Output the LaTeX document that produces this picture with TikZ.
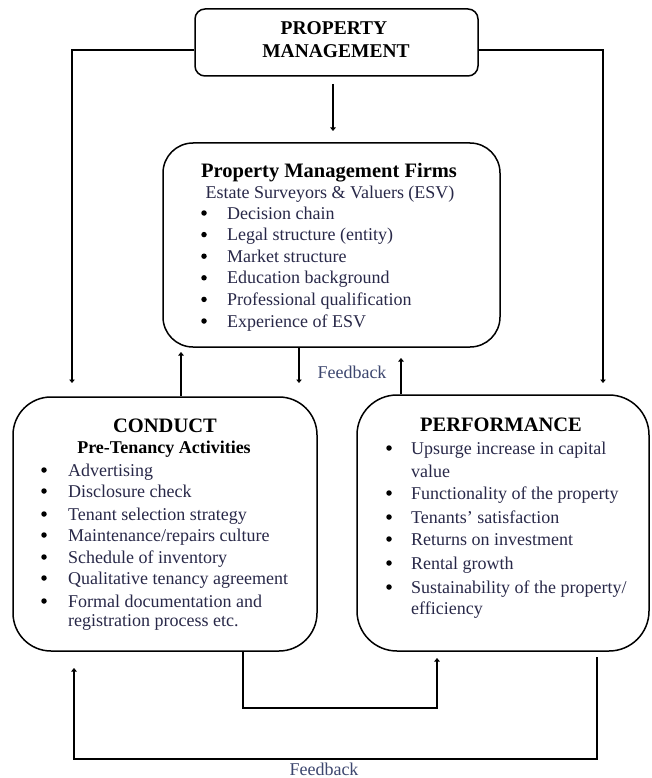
\documentclass[tikz,border=0pt]{standalone}
\usepackage{fontspec}
\setmainfont{Liberation Serif}
\usetikzlibrary{arrows.meta}
\definecolor{itemc}{RGB}{40,40,72}
\definecolor{fbc}{RGB}{60,70,110}
\begin{document}
\begin{tikzpicture}[x=1pt,y=-1pt,
  box/.style={draw, line width=1.5pt, rounded corners=#1, inner sep=0pt},
  conn/.style={line width=2.8pt},
  arr/.style={conn, -{Triangle[length=3.5pt,width=5.5pt]}},
  ttl/.style={font=\bfseries\fontsize{20.5}{23}\selectfont, inner sep=0pt, anchor=base},
  sub/.style={font=\bfseries\fontsize{18}{21}\selectfont, inner sep=0pt, anchor=base},
  itm/.style={font=\fontsize{18}{21}\selectfont, text=itemc, inner sep=0pt, anchor=base west},
  bul/.style={circle, fill=black, inner sep=0pt, minimum size=5.5pt},
  fb/.style={font=\fontsize{18}{21}\selectfont, text=fbc, inner sep=0pt, anchor=base}
]
\useasboundingbox (0,0) rectangle (651,778);

% boxes
\node[box=10pt, minimum width=283pt, minimum height=67pt] (pm) at (336.5,42.5) {};
\node[box=30pt, minimum width=337pt, minimum height=204pt] (pmf) at (331.5,245) {};
\node[box=38pt, minimum width=304pt, minimum height=254pt] (conduct) at (165,524) {};
\node[box=40pt, minimum width=292pt, minimum height=256pt] (perf) at (503,523) {};

% top box text
\node[ttl, font=\bfseries\fontsize{19.5}{23}\selectfont] (pmt1) at (334,35) {PROPERTY};
\node[ttl, font=\bfseries\fontsize{19.5}{23}\selectfont] (pmt2) at (336,58) {MANAGEMENT};

% PMF box text
\node[ttl] (pmft) at (329,177) {Property Management Firms};
\node[itm, anchor=base] (pmfs) at (330,198) {Estate Surveyors \& Valuers (ESV)};
\foreach \t [count=\i] in {Decision chain, Legal structure (entity), Market structure, Education background, Professional qualification, Experience of ESV} {
  \node[bul] (pmfb\i) at (204,{213+21.6*(\i-1)}) {};
  \node[itm] (pmfi\i) at (227,{219+21.6*(\i-1)}) {\t};
}

% CONDUCT box text
\node[ttl] (cdt) at (165,432) {CONDUCT};
\node[sub] (cds) at (164,453) {Pre-Tenancy Activities};
\foreach \t/\y [count=\i] in {Advertising/470, Disclosure check/491, Tenant selection strategy/514, Maintenance\slash repairs culture/535, Schedule of inventory/557, Qualitative tenancy agreement/578, Formal documentation and/601} {
  \node[bul] (cdb\i) at (44,\y) {};
  \node[itm] (cdi\i) at (68,{\y+6}) {\t};
}
\node[itm] (cdi8) at (68,626) {registration process etc.};

% PERFORMANCE box text
\node[ttl] (pft) at (501,431) {PERFORMANCE};
\node[bul] (pfb1) at (389,448) {};
\node[itm] (pfi1) at (411,454) {Upsurge increase in capital};
\node[itm] (pfi1b) at (411,477) {value};
\node[bul] (pfb2) at (389,493) {};
\node[itm] (pfi2) at (411,499) {Functionality of the property};
\node[bul] (pfb3) at (389,517) {};
\node[itm] (pfi3) at (411,523) {Tenants' satisfaction};
\node[bul] (pfb4) at (389,539) {};
\node[itm] (pfi4) at (411,545) {Returns on investment};
\node[bul] (pfb5) at (389,563) {};
\node[itm] (pfi5) at (411,569) {Rental growth};
\node[bul] (pfb6) at (389,587) {};
\node[itm] (pfi6) at (411,593) {Sustainability of the property/};
\node[itm] (pfi6b) at (411,614) {efficiency};

% connector coordinates
\coordinate (tl) at (72,50);
\coordinate (tlend) at (72,383);
\coordinate (tr) at (603,50);
\coordinate (trend) at (603,383);
\coordinate (c0) at (333,84);
\coordinate (c1) at (333,131);
\coordinate (a1) at (181,352);
\coordinate (a2) at (299,383);
\coordinate (a3) at (401,358);
\coordinate (b1) at (243,708);
\coordinate (b2) at (437,708);
\coordinate (b3) at (437,658);
\coordinate (d0) at (597,657);
\coordinate (d1) at (597,759);
\coordinate (d2) at (74,759);
\coordinate (d3) at (74,668);

% connectors
\draw[arr] (pm.west |- tl) -- (tl) -- (tlend);
\draw[arr] (pm.east |- tr) -- (tr) -- (trend);
\draw[arr] (c0) -- (c1);
\draw[arr] (conduct.north -| a1) -- (a1);
\draw[arr] (pmf.south -| a2) -- (a2);
\draw[arr] (perf.north -| a3) -- (a3);
\draw[arr] (conduct.south -| b1) -- (b1) -- (b2) -- (b3);
\draw[arr] (d0) -- (d1) -- (d2) -- (d3);

% feedback labels
\node[fb] (fb1) at (352,378) {Feedback};
\node[fb] (fb2) at (324,775) {Feedback};
\end{tikzpicture}
\end{document}
